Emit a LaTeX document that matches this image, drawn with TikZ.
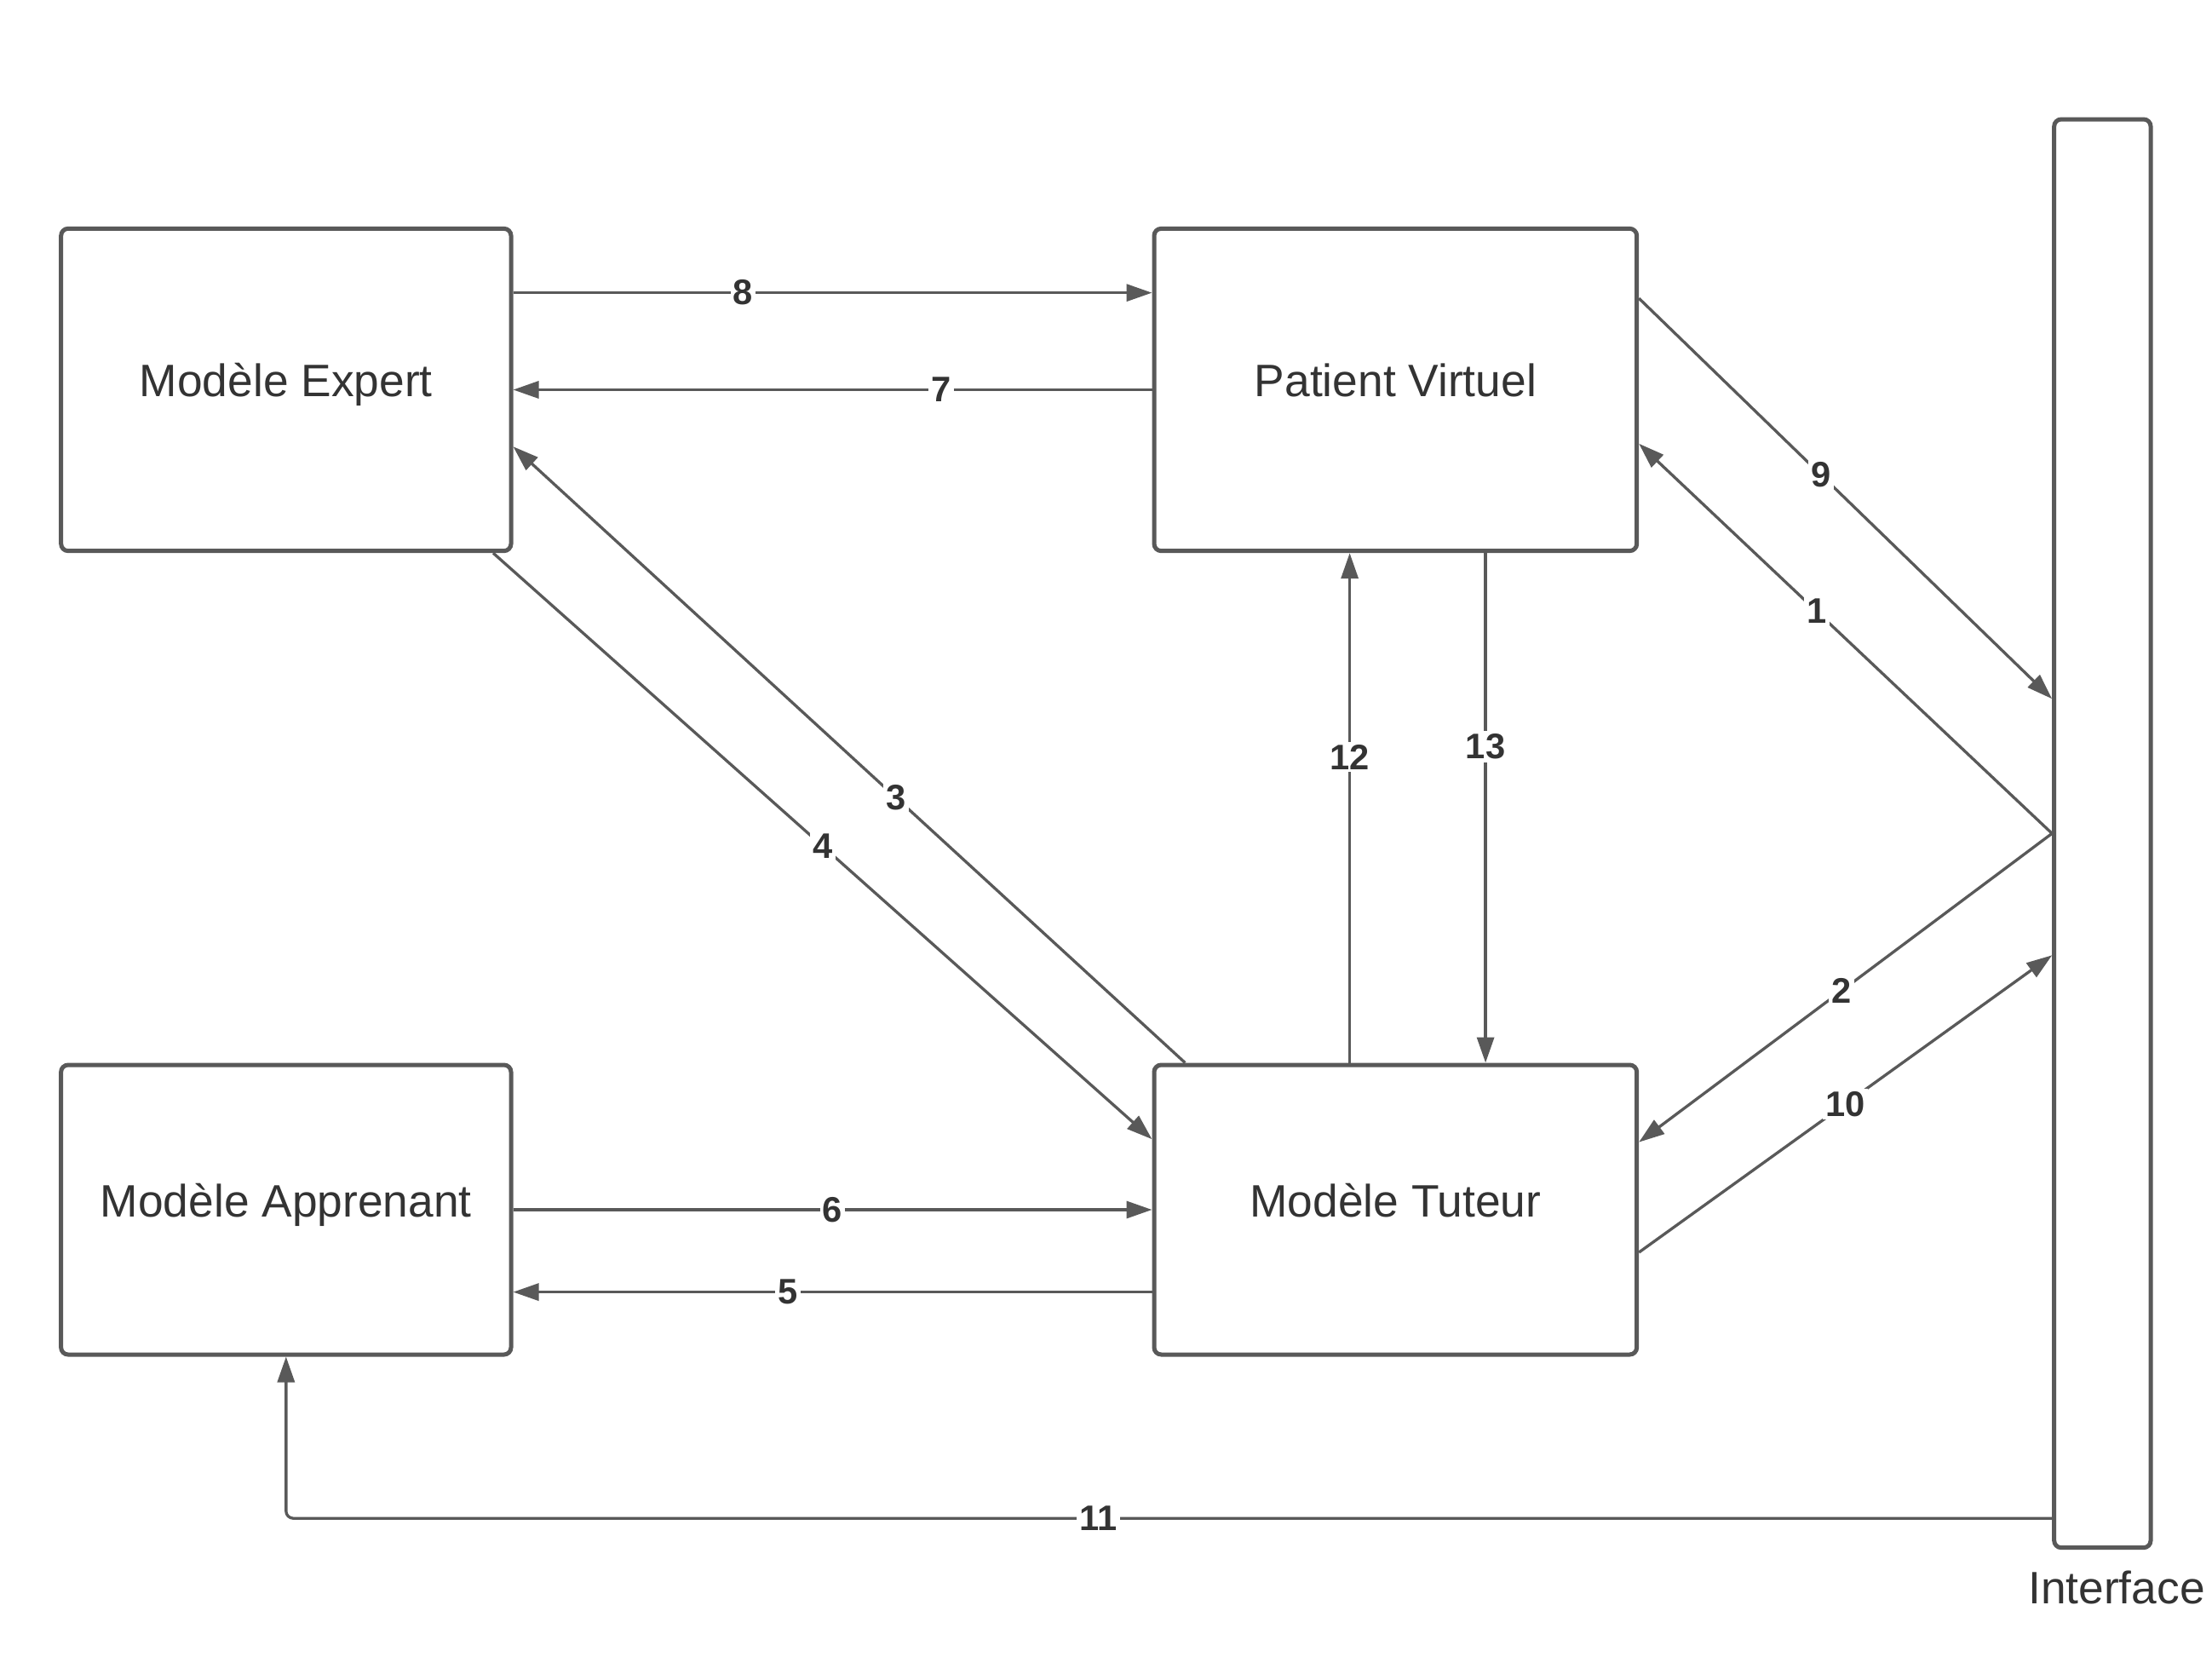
\documentclass[tikz,border=0pt]{standalone}
\usepackage{fontspec}
\setmainfont{Liberation Sans}
\usetikzlibrary{arrows.meta,calc}
\definecolor{ligne}{HTML}{595959}
\definecolor{texte}{HTML}{333333}

\begin{document}
\begin{tikzpicture}[x=0.5pt,y=-0.5pt,
	bloc/.style={draw=ligne,line width=1.5pt,rounded corners=2.5pt,fill=white,text=texte,text height=0.75em,text depth=0.25em,font=\fontsize{16}{19}\selectfont},
	fleche/.style={draw=ligne,line width=1pt,-{Triangle[length=9pt,width=6pt]}},
	num/.style={fill=white,text=texte,inner sep=1pt,font=\fontsize{12.5}{14}\selectfont\bfseries}]
	\useasboundingbox (0,0) rectangle (1558.2,1183.2);
	\node[bloc,minimum width=158.5pt,minimum height=113.5pt] (expert) at (201.5,274.5) {Modèle Expert};
	\node[bloc,minimum width=170pt,minimum height=113.5pt] (patient) at (983,274.5) {Patient Virtuel};
	\node[bloc,minimum width=158.5pt,minimum height=102pt] (apprenant) at (201.5,852) {Modèle Apprenant};
	\node[bloc,minimum width=170pt,minimum height=102pt] (tuteur) at (983,852) {Modèle Tuteur};
	\node[bloc,minimum width=34pt,minimum height=503pt] (interface) at (1481,587) {};
	\node[text=texte,font=\fontsize{16}{19}\selectfont] (nominterface) at (1491,1118) {Interface};

	\draw[fleche] ($(expert.north east)!0.203!(expert.south east)$) -- node[num,pos=0.36] {8} ($(patient.north west)!0.203!(patient.south west)$);
	\draw[fleche] (patient.west) -- node[num,pos=0.33] {7} (expert.east);
	\draw[fleche] ($(tuteur.north west)!0.068!(tuteur.north east)$) -- node[num,pos=0.43] {3} ($(expert.north east)!0.674!(expert.south east)$);
	\draw[fleche] ($(expert.south west)!0.956!(expert.south east)$) -- node[num,pos=0.5] {4} ($(tuteur.north west)!0.26!(tuteur.south west)$);
	\draw[fleche] (apprenant.east) -- node[num,pos=0.5] {6} (tuteur.west);
	\draw[fleche] ($(tuteur.north west)!0.78!(tuteur.south west)$) -- node[num,pos=0.57] {5} ($(apprenant.north east)!0.78!(apprenant.south east)$);
	\draw[fleche] ($(tuteur.north west)!0.406!(tuteur.north east)$) -- node[num,pos=0.6] {12} ($(patient.south west)!0.406!(patient.south east)$);
	\draw[fleche] ($(patient.south west)!0.685!(patient.south east)$) -- node[num,pos=0.38] {13} ($(tuteur.north west)!0.685!(tuteur.north east)$);
	\draw[fleche] ($(patient.north east)!0.22!(patient.south east)$) -- node[num,pos=0.44] {9} ($(interface.north west)!0.406!(interface.south west)$);
	\draw[fleche] (interface.west) -- node[num,pos=0.57] {1} ($(patient.north east)!0.665!(patient.south east)$);
	\draw[fleche] (interface.west) -- node[num,pos=0.51] {2} ($(tuteur.north east)!0.27!(tuteur.south east)$);
	\draw[fleche] ($(tuteur.north east)!0.645!(tuteur.south east)$) -- node[num,pos=0.5] {10} ($(interface.north west)!0.585!(interface.south west)$);
	\draw[fleche,rounded corners=2.5pt] ($(interface.north west)!0.978!(interface.south west)$) -| node[num,pos=0.27] {11} (apprenant.south);
\end{tikzpicture}
\end{document}
